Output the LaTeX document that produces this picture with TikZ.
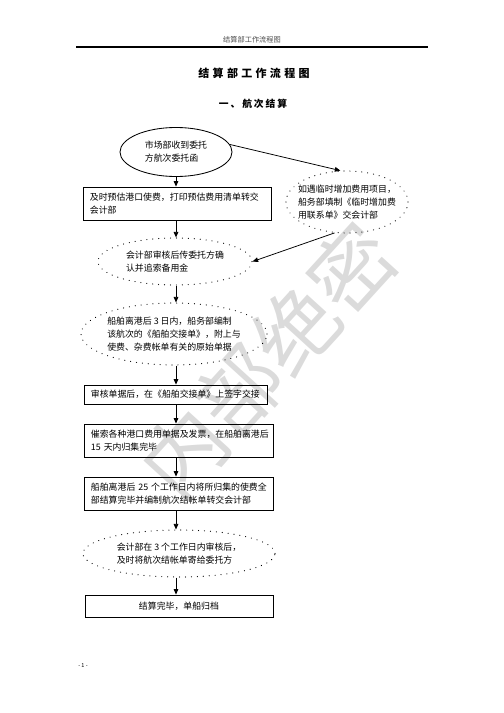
\documentclass[tikz,border=0pt]{standalone}
\usepackage{fontspec}
\setmainfont{Noto Sans CJK SC}
\newfontfamily\cjk{Noto Sans CJK SC}
\newfontfamily\cjktitle[LetterSpace=30]{Noto Sans CJK SC}
\newfontfamily\cjksub[LetterSpace=20]{Noto Sans CJK SC}
\usetikzlibrary{arrows.meta,shapes.geometric}
\begin{document}
\begin{tikzpicture}[x=1.181pt,y=-1.181pt,
  bodyfont/.style={font=\cjk\fontsize{10.5pt}{15.5pt}\selectfont},
  box/.style={draw, line width=1pt, rectangle, inner xsep=8pt, inner ysep=0pt, align=left, bodyfont},
  solidell/.style={ellipse, draw, line width=1pt, inner sep=0pt},
  dotell/.style={ellipse, draw, line width=1.4pt, dash pattern=on 0.01pt off 7pt, line cap=round, inner sep=0pt},
  etext/.style={bodyfont, align=left, inner sep=0pt},
  arr/.style={line width=0.9pt, -{Triangle[length=6.5pt,width=5.5pt]}}
]
\useasboundingbox (0,0) rectangle (504,713);

% watermark
\node[rotate=47.7, text=black!14, font=\cjk\fontsize{98pt}{100pt}\selectfont, inner sep=0pt] (wm) at (268,360) {内部绝密};

% header
\node[font=\cjk\fontsize{8.5pt}{10pt}\selectfont, text=black!70] (hdr) at (252,40) {结算部工作流程图};
\coordinate (hl) at (76,47);
\coordinate (hr) at (428,47);
\draw[line width=1.2pt] (hl) -- (hr);

% titles
\node[font=\cjktitle\bfseries\fontsize{13pt}{15pt}\selectfont] (title) at (254,73) {结算部工作流程图};
\node[font=\cjksub\bfseries\fontsize{11.5pt}{14pt}\selectfont] (sub) at (253,104) {一、航次结算};

\coordinate (ax) at (176,0);

% nodes
\node[solidell, minimum width=132.3pt, minimum height=57.9pt,
  label={[etext]center:市场部收到委托\\方航次委托函}] (e1) at (176,152) {};

\node[box, text width=207pt, minimum height=39pt] (b1) at (177.5,203.5)
  {及时预估港口使费，打印预估费用清单转交\\会计部};

\node[dotell, minimum width=144.1pt, minimum height=73.2pt,
  label={[etext]center:如遇临时增加费用项目，\\船务部填制《临时增加费\\用联系单》交会计部}] (e5) at (347,202) {};

\node[dotell, minimum width=181.9pt, minimum height=55.5pt,
  label={[etext]center:会计部审核后传委托方确\\认并追索备用金}] (e2) at (175,261.5) {};

\node[dotell, minimum width=219.7pt, minimum height=73.2pt,
  label={[etext]center:船舶离港后 3 日内，船务部编制\\该航次的《船舶交接单》，附上与\\使费、杂费帐单有关的原始单据}] (e3) at (174,334) {};

\node[box, text width=201pt, minimum height=22.4pt] (b2) at (176,394.5)
  {审核单据后，在《船舶交接单》上签字交接};

\node[box, text width=208pt, minimum height=39pt] (b3) at (179,440.5)
  {催索各种港口费用单据及发票，在船舶离港后\\15 天内归集完毕};

\node[box, text width=208pt, minimum height=39pt] (b4) at (179,493.5)
  {船舶离港后 25 个工作日内将所归集的使费全\\部结算完毕并编制航次结帐单转交会计部};

\node[dotell, minimum width=226.8pt, minimum height=55.5pt,
  label={[etext]center:会计部在 3 个工作日内审核后，\\及时将航次结帐单寄给委托方}] (e4) at (179,553.5) {};

\node[box, align=center, text width=206pt, minimum height=26pt] (b5) at (179,606)
  {结算完毕，单船归档};

\node[font=\cjk\fontsize{6.5pt}{8pt}\selectfont] (pg) at (83,666) {- 1 -};

% connectors
\draw[arr] (e1.south -| ax) -- (b1.north -| ax);
\draw[arr] (e1.8) -- (e5.102);
\draw[arr] (b1.south -| ax) -- (e2.north -| ax);
\draw[arr] (e5.248) -- (e2.east);
\draw[arr] (e2.south -| ax) -- (e3.north -| ax);
\draw[arr] (e3.south -| ax) -- (b2.north -| ax);
\draw[arr] (b2.south -| ax) -- (b3.north -| ax);
\draw[arr] (b3.south -| ax) -- (b4.north -| ax);
\draw[arr] (b4.south -| ax) -- (e4.north -| ax);
\draw[arr] (e4.south -| ax) -- (b5.north -| ax);
\end{tikzpicture}
\end{document}
